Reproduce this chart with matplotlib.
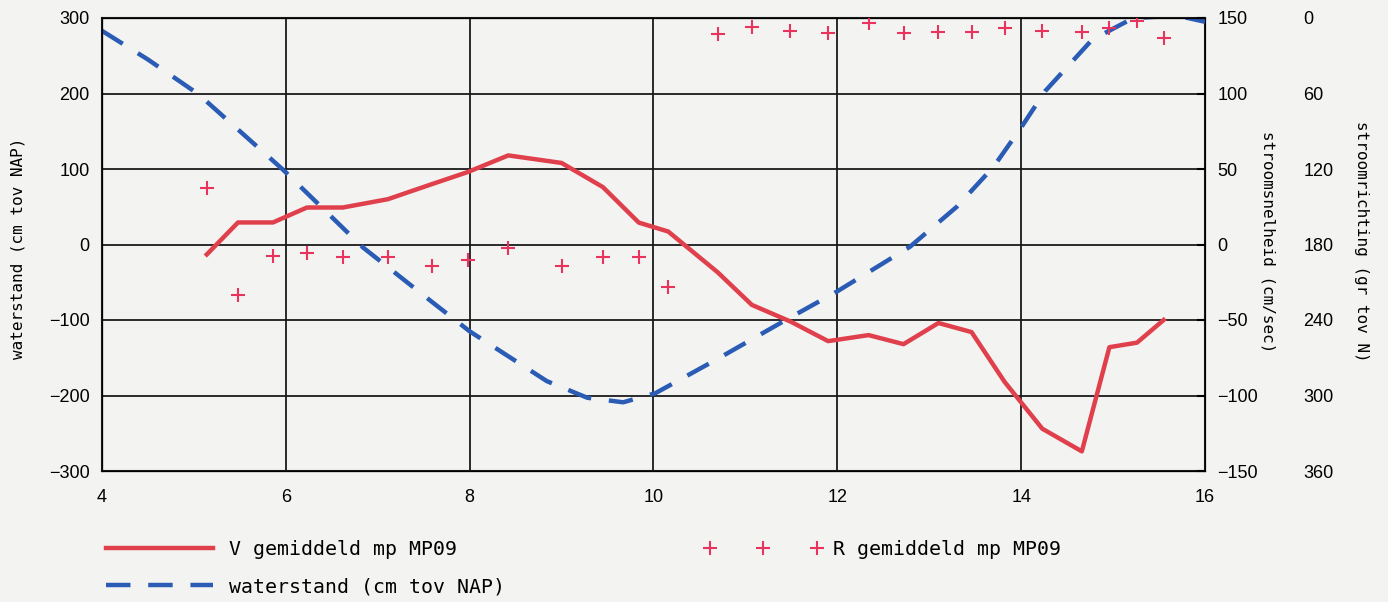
import numpy as np
import matplotlib.pyplot as plt
from matplotlib.lines import Line2D

# tijdstippen (uur) van de metingen op MP09
t_meting = [5.14, 5.48, 5.86, 6.23, 6.62, 7.11, 7.59, 7.98, 8.42, 9.00, 9.45, 9.84, 10.16,
            10.70, 11.07, 11.49, 11.90, 12.34, 12.72, 13.10, 13.46, 13.82, 14.23, 14.66,
            14.96, 15.26, 15.55]
# stroomsnelheid (cm/sec)
v_gem = [-6.6, 14.6, 14.6, 24.5, 24.5, 30, 40, 48, 59, 54, 38, 14.5, 8.6,
         -18.5, -40, -51, -64, -60, -66, -52, -58, -91, -122, -137,
         -68, -65, -50]
# stroomrichting (gr tov N)
r_gem = [135, 220, 189, 187, 190, 190, 197, 192, 183, 197, 190, 190, 214,
         13, 7, 10, 12, 4, 12, 11, 11, 8, 10, 11,
         8, 2, 16]

# waterstand (cm tov NAP)
t_water = [4.0, 4.5, 5.05, 5.97, 6.84, 7.6, 8.0, 8.84, 9.28, 9.67, 10.02, 10.69, 11.41,
           12.0, 12.79, 13.3, 13.7, 14.0, 14.26, 14.77, 15.22, 15.7, 16.0]
waterstand = [283, 245, 199, 99, -4, -77, -115, -181, -203, -209, -197, -152, -102,
              -62, -3, 50, 103, 155, 203, 271, 300, 303, 295]

bg = '#f3f3f2'
red = '#e0404c'
plus_red = '#e8345c'
blue = '#2a5bb5'
tick_font = 'Liberation Sans'
label_font = 'DejaVu Sans Mono'

fig = plt.figure(figsize=(13.88, 6.02), dpi=100, facecolor=bg)
ax = fig.add_axes([102/1388, 1-471/602, (1205-102)/1388, (471-18)/602])
ax.set_facecolor(bg)

ax.plot(t_water, waterstand, color=blue, lw=3.2, dashes=(5.5, 4), zorder=3)
ax.set_xlim(4, 16)
ax.set_ylim(-300, 300)
ax.set_xticks(np.arange(4, 17, 2))
ax.set_yticks(np.arange(-300, 301, 100))
ax.grid(True, color='#1a1a1a', lw=1.3)
ax.tick_params(axis='x', length=0, pad=13, labelsize=13)
ax.tick_params(axis='y', length=0, pad=9, labelsize=13)
for lab in ax.get_xticklabels() + ax.get_yticklabels():
    lab.set_fontfamily(tick_font)
for s in ax.spines.values():
    s.set_color('#1a1a1a')
    s.set_linewidth(1.5)

# stroomsnelheid
ax2 = ax.twinx()
ax2.plot(t_meting, v_gem, color=red, lw=3.2, zorder=4)
ax2.set_ylim(-150, 150)
ax2.set_yticks(np.arange(-150, 151, 50))
ax2.tick_params(axis='y', direction='in', length=6, width=1.5, pad=9, labelsize=13)
for lab in ax2.get_yticklabels():
    lab.set_fontfamily(tick_font)

# stroomrichting
ax3 = ax.twinx()
ax3.plot(t_meting, r_gem, ls='none', marker='+', ms=10, mew=1.5, color=plus_red, zorder=5)
ax3.set_ylim(360, 0)
ax3.set_yticks(np.arange(0, 361, 60))
ax3.spines['right'].set_visible(False)
ax3.tick_params(axis='y', length=0, pad=71, labelsize=13)
for lab in ax3.get_yticklabels():
    lab.set_fontfamily(tick_font)

fig.text(18/1388, 1-248/602, 'waterstand (cm tov NAP)', rotation=90, ha='center', va='center',
         family=label_font, fontsize=11.5)
fig.text(1268/1388, 1-242/602, 'stroomsnelheid (cm/sec)', rotation=270, ha='center', va='center',
         family=label_font, fontsize=11.5)
fig.text(1362/1388, 1-241/602, 'stroomrichting (gr tov N)', rotation=270, ha='center', va='center',
         family=label_font, fontsize=11.5)

handles = [Line2D([], [], color=red, lw=3.2),
           Line2D([], [], color=blue, lw=3.2, dashes=(5.5, 4)),
           Line2D([], [], ls='none', marker='+', ms=10, mew=1.5, color=plus_red)]
labels = ['V gemiddeld mp MP09', 'waterstand (cm tov NAP)', 'R gemiddeld mp MP09']
fig.legend(handles, labels, ncol=2, loc='upper left', bbox_to_anchor=(100/1388, 1-540/602),
           frameon=False, borderpad=0, borderaxespad=0, handlelength=6.0, handletextpad=0.5,
           numpoints=3, columnspacing=10.0, labelspacing=0.92,
           prop={'family': label_font, 'size': 14.3})

fig.savefig('out.png', dpi=100, facecolor=bg)
